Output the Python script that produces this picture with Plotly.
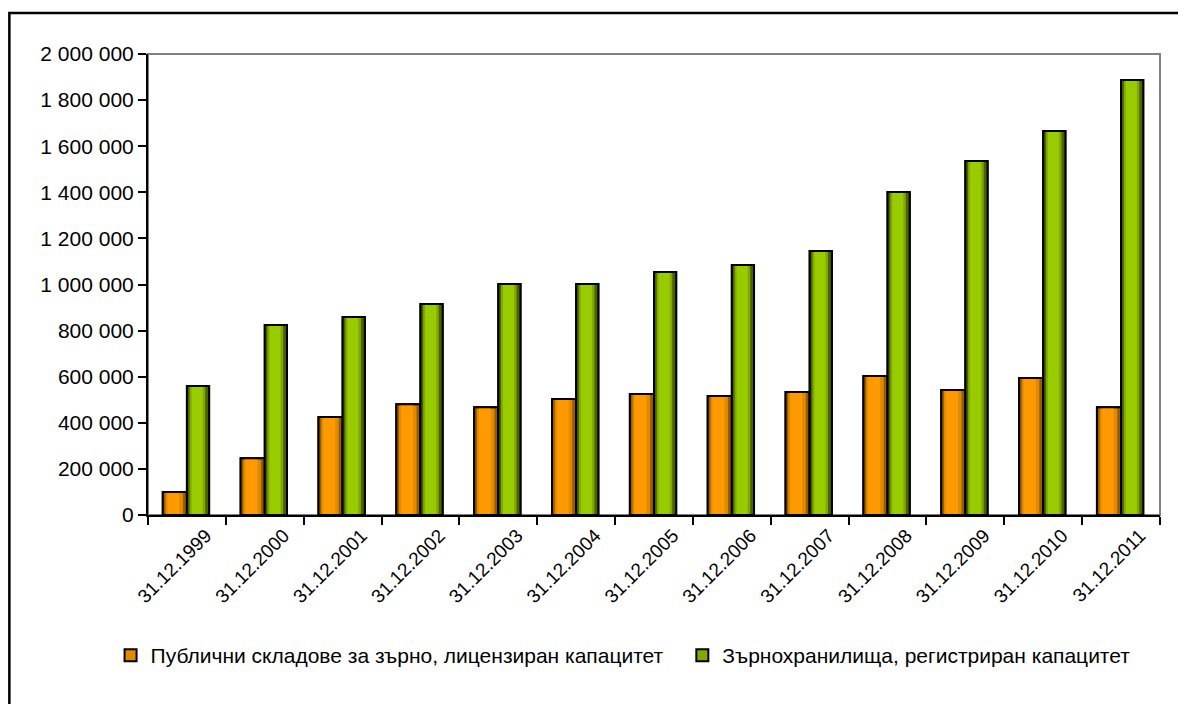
import plotly.graph_objects as go

dates = ["31.12.1999", "31.12.2000", "31.12.2001", "31.12.2002", "31.12.2003",
         "31.12.2004", "31.12.2005", "31.12.2006", "31.12.2007", "31.12.2008",
         "31.12.2009", "31.12.2010", "31.12.2011"]
public_storage = [100000, 246000, 425000, 481000, 468000, 503000, 525000,
                  516000, 534000, 603000, 542000, 594000, 468000]
granaries = [560000, 824000, 859000, 915000, 1002000, 1002000, 1054000,
             1085000, 1145000, 1401000, 1536000, 1666000, 1887000]
names = ["Публични складове за зърно, лицензиран капацитет",
         "Зърнохранилища, регистриран капацитет"]
y_ticks = list(range(0, 2000001, 200000))

FONT = "Liberation Sans, Arial, sans-serif"

# (values, offset, width, colour layers from edge to highlight, legend id)
series = [
    (public_storage, -0.31, 0.31, ["#9a5c00", "#e08a00", "#ff9900"], "legend"),
    (granaries, 0.0, 0.285, ["#4a6300", "#80aa00", "#99cc00"], "legend2"),
]

fig = go.Figure()
for i, (vals, off, w, cols, leg) in enumerate(series):
    # base layer, shown in legend
    fig.add_trace(go.Bar(x=dates, y=vals, name=names[i], offset=off, width=w, legend=leg,
                         marker=dict(color=cols[1], line=dict(color="black", width=2))))
    # fake cylinder shading
    fig.add_trace(go.Bar(x=dates, y=vals, offset=off + 0.06, width=w * 0.5,
                         marker=dict(color=cols[2], line=dict(width=0)),
                         showlegend=False, hoverinfo="skip"))
    fig.add_trace(go.Bar(x=dates, y=vals, offset=off, width=0.035,
                         marker=dict(color=cols[0], line=dict(width=0)),
                         showlegend=False, hoverinfo="skip"))
    fig.add_trace(go.Bar(x=dates, y=vals, offset=off + w - 0.05, width=0.05,
                         marker=dict(color=cols[0], line=dict(width=0)),
                         showlegend=False, hoverinfo="skip"))
    # outline on top
    fig.add_trace(go.Bar(x=dates, y=vals, offset=off, width=w,
                         marker=dict(color="rgba(0,0,0,0)", line=dict(color="black", width=2)),
                         showlegend=False, hoverinfo="skip"))

leg_style = dict(orientation="h", xanchor="left", y=-0.305, yanchor="middle",
                 font=dict(size=21), itemwidth=30, bgcolor="rgba(0,0,0,0)")

# the page body adds 8px, margins compensate for it
fig.update_layout(
    width=1186, height=704,
    margin=dict(l=140, r=34, t=46, b=197, autoexpand=False),
    barmode="overlay",
    paper_bgcolor="white", plot_bgcolor="white",
    font=dict(family=FONT, size=21, color="black"),
    separators=", ",
    showlegend=True,
    legend=dict(x=-0.037, **leg_style),
    legend2=dict(x=0.528, **leg_style),
    shapes=[
        dict(type="rect", xref="x domain", yref="y domain", x0=0, x1=1, y0=0, y1=1,
             line=dict(color="#808080", width=2), layer="below"),
        dict(type="rect", xref="paper", yref="paper", x0=-0.137, x1=1.05, y0=-0.5, y1=1.089,
             line=dict(color="black", width=2.5), layer="below"),
    ],
)
fig.update_xaxes(type="category", tickangle=-45, showline=True, linecolor="black", linewidth=2,
                 ticks="outside", tickson="boundaries", ticklen=8, tickwidth=2, tickcolor="black",
                 showgrid=False, tickfont=dict(size=19), ticklabelshift=19, automargin=False)
fig.update_yaxes(range=[0, 2000000], tickvals=y_ticks, tickformat=",d", showline=True,
                 linecolor="black", linewidth=2, ticks="outside", ticklen=8, tickwidth=2,
                 tickcolor="black", showgrid=False, zeroline=False, tickfont=dict(size=21),
                 automargin=False)

fig.write_html("out.html")
